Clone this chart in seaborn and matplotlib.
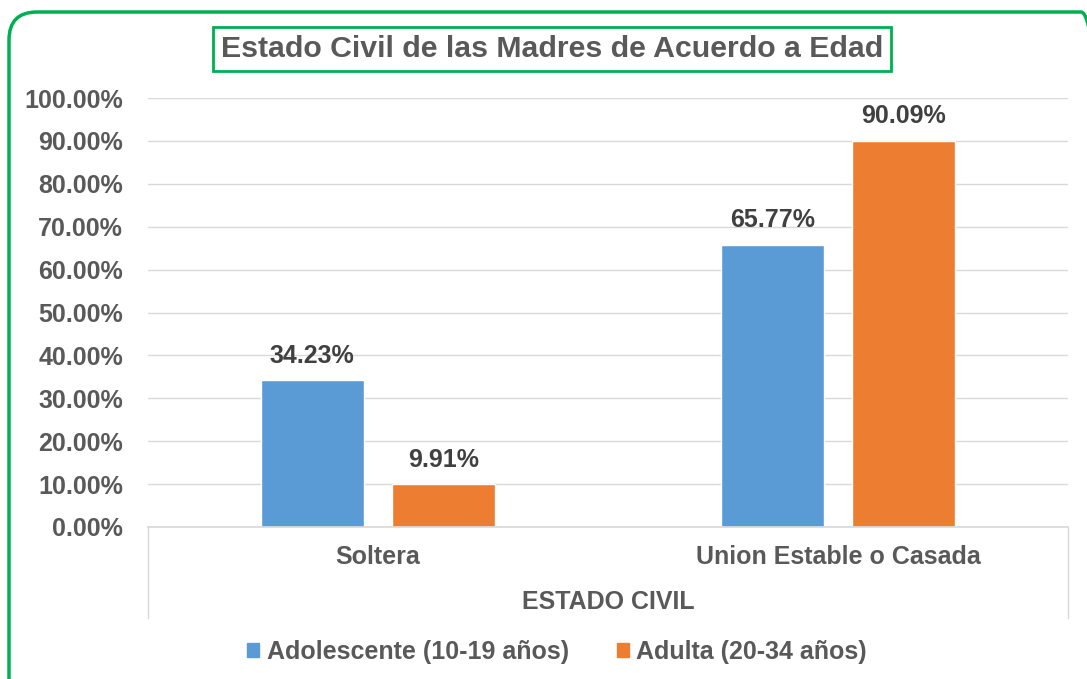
import pandas as pd
import seaborn as sns
import matplotlib.pyplot as plt
from matplotlib.patches import FancyBboxPatch, Patch
from matplotlib.transforms import IdentityTransform
from matplotlib.ticker import FuncFormatter

# data
categorias = ['Soltera', 'Union Estable o Casada']
grupos = ['Adolescente (10-19 años)', 'Adulta (20-34 años)']
adolescente = [34.23, 65.77]
adulta = [9.91, 90.09]
colores = ['#5B9BD5', '#ED7D31']

df = pd.DataFrame({
    'estado': categorias * 2,
    'grupo': [grupos[0]] * 2 + [grupos[1]] * 2,
    'valor': adolescente + adulta,
})

sns.set_theme(style='white')
plt.rcParams['font.family'] = ['Liberation Sans', 'DejaVu Sans']
plt.rcParams['font.weight'] = 'bold'
gris = '#595959'
fs = 18

fig = plt.figure(figsize=(10.87, 6.79), dpi=100)
ax = fig.add_axes([148 / 1087, 1 - 527 / 679, 920 / 1087, 429 / 679])

sns.barplot(data=df, x='estado', y='valor', hue='grupo', palette=colores,
            width=0.572, gap=0.217, saturation=1, legend=False, ax=ax)

for c in ax.containers:
    ax.bar_label(c, labels=[f'{v:.2f}%' for v in c.datavalues], padding=9,
                 fontsize=fs, fontweight='bold', color='#404040')

ax.set_xlim(-0.5, 1.5)
ax.set_ylim(0, 100)
ax.set_yticks(range(0, 101, 10))
ax.yaxis.set_major_formatter(FuncFormatter(lambda v, p: f'{v:.2f}%'))
ax.yaxis.grid(True, color='#D9D9D9', lw=1)
ax.set_axisbelow(True)
for s in ['left', 'top', 'right']:
    ax.spines[s].set_visible(False)
ax.spines['bottom'].set_color('#D9D9D9')
ax.tick_params(axis='y', length=0, pad=18, labelsize=fs, labelcolor=gris)
ax.tick_params(axis='x', length=0, pad=13, labelsize=fs, labelcolor=gris)
ax.set_ylabel('')
ax.set_xlabel('ESTADO CIVIL', fontsize=fs, fontweight='bold', color=gris, labelpad=15)

# category box lines
for xx in [0, 1]:
    ax.plot([xx, xx], [0, -91 / 429], transform=ax.transAxes, color='#D9D9D9',
            lw=1, clip_on=False)

# title in green box
fig.text(552 / 1087, 1 - 49 / 679, 'Estado Civil de las Madres de Acuerdo a Edad',
         ha='center', va='center', fontsize=21.8, fontweight='bold', color=gris,
         bbox=dict(boxstyle='square,pad=0.25', fc='white', ec='#00B050', lw=2))

# legend
handles = [Patch(color=colores[i], label=grupos[i]) for i in range(2)]
fig.legend(handles=handles, loc='center', bbox_to_anchor=(557 / 1087, 1 - 652 / 679),
           ncol=2, frameon=False, handlelength=0.5, handleheight=0.5,
           handletextpad=0.3, columnspacing=1.9,
           prop={'size': fs, 'weight': 'bold'}, labelcolor=gris)

# green rounded border
borde = FancyBboxPatch((9, -30), 1100, 697, boxstyle='round,pad=0,rounding_size=28',
                       transform=IdentityTransform(), fc='none', ec='#00B050', lw=2.5)
fig.add_artist(borde)

fig.savefig('out.png', dpi=100)
